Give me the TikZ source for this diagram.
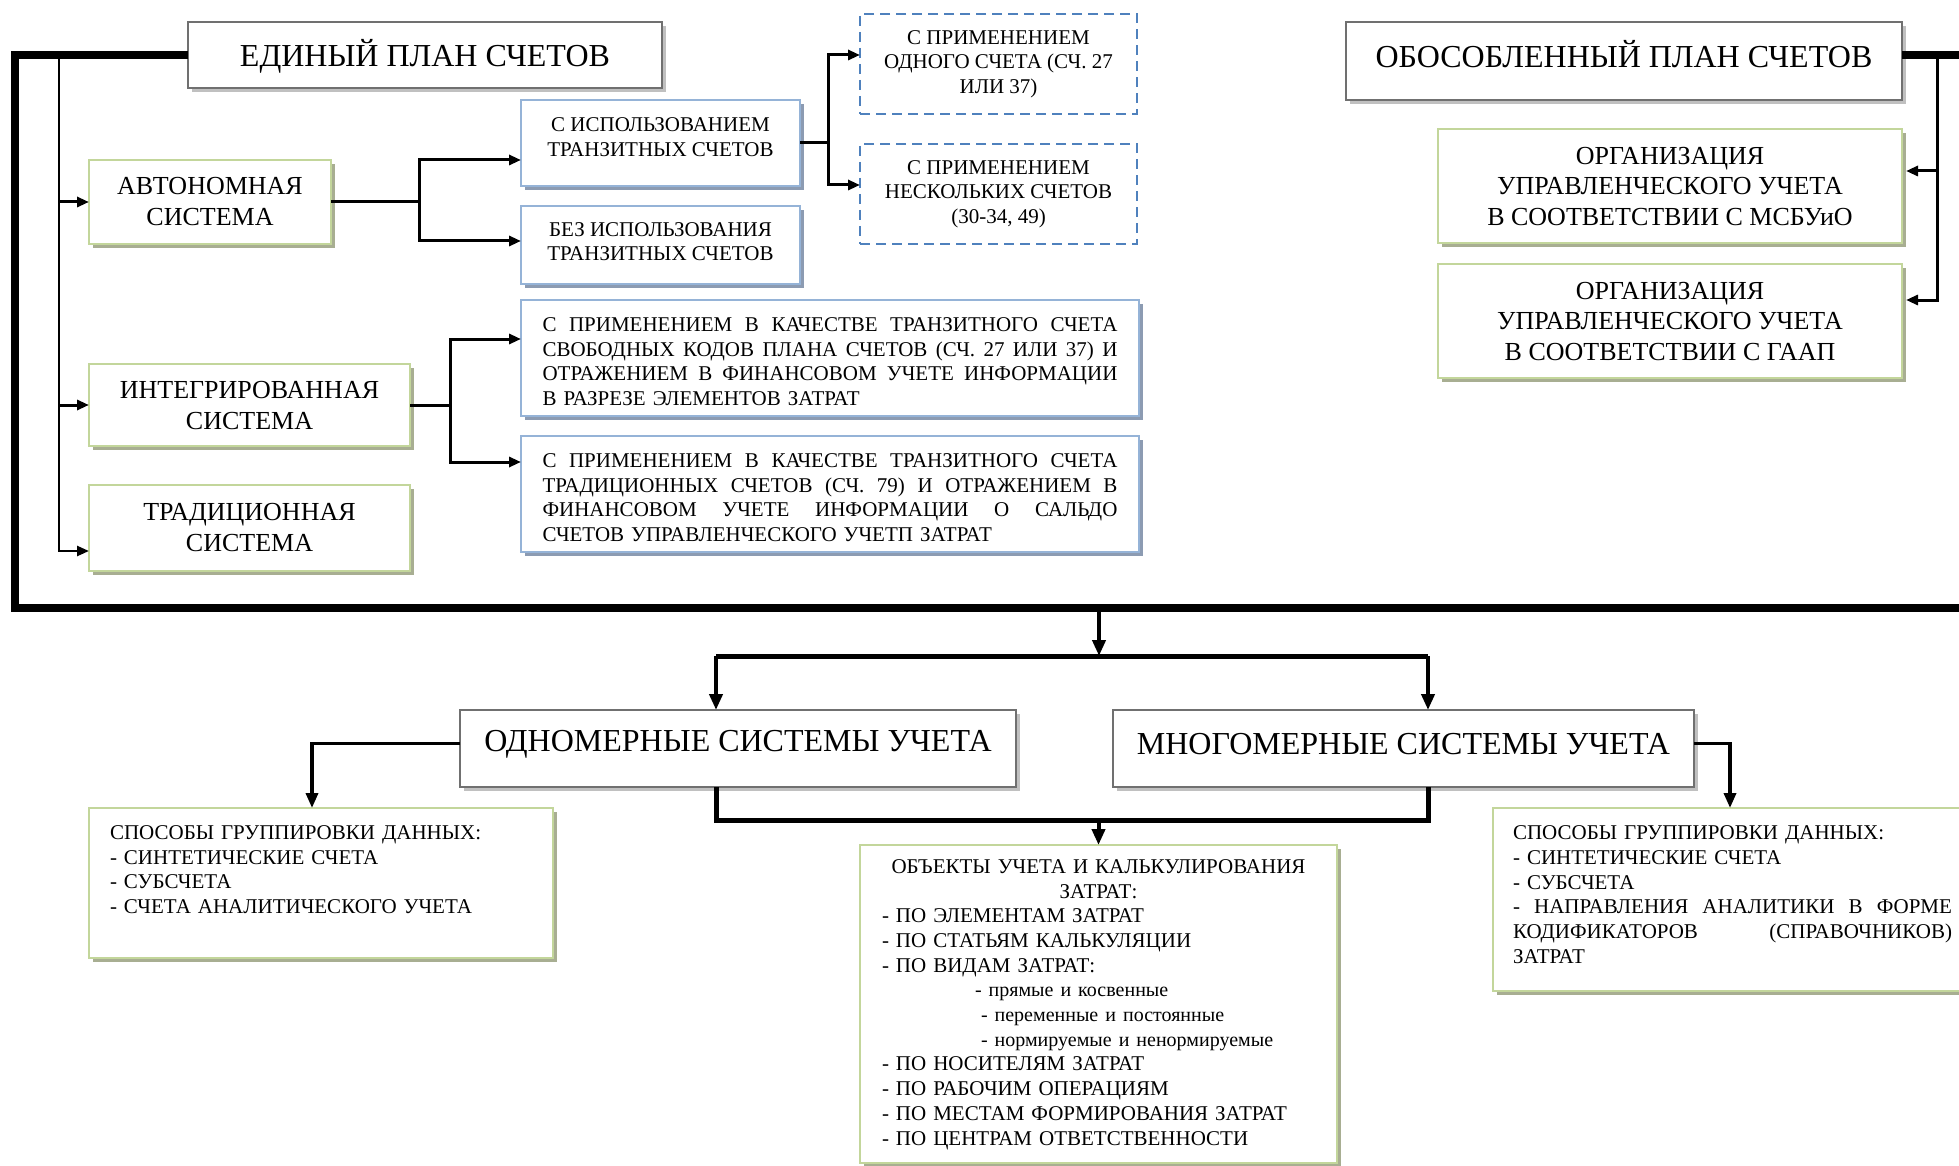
\documentclass[tikz,border=0pt]{standalone}
\usepackage{fontspec}
\setmainfont{Liberation Serif}
\usetikzlibrary{arrows.meta,shadows}

\definecolor{greyedge}{RGB}{112,112,112}
\definecolor{greyshade}{RGB}{192,192,192}
\definecolor{greenedge}{RGB}{195,214,155}
\definecolor{greenshade}{RGB}{168,174,146}
\definecolor{blueedge}{RGB}{149,179,215}
\definecolor{blueshade}{RGB}{140,155,178}
\definecolor{dashblue}{RGB}{79,129,189}

% a line of text spread over the given width (justified line)
\newcommand{\jline}[2]{\makebox[#1][s]{\spaceskip=0.25em plus 1fil\relax #2}}

\begin{document}
\begin{tikzpicture}[x=1pt,y=-1pt,
  box/.style={rectangle, inner sep=0pt, outer sep=0pt, fill=white, line width=2.5pt},
  greybox/.style={box, draw=greyedge, general shadow={fill=greyshade, shadow xshift=4pt, shadow yshift=-4pt}},
  greenbox/.style={box, draw=greenedge, general shadow={fill=greenshade, shadow xshift=4pt, shadow yshift=-4pt}},
  bluebox/.style={box, draw=blueedge, general shadow={fill=blueshade, shadow xshift=4pt, shadow yshift=-4pt}},
  dashbox/.style={box, draw=dashblue, dash pattern=on 10pt off 6pt},
  txtL/.style={font=\fontsize{32}{38}\selectfont, inner sep=0pt},
  txtM/.style={font=\fontsize{26}{30.6}\selectfont, align=center, inner sep=0pt},
  txtS/.style={font=\fontsize{21}{24.7}\selectfont, align=center, inner sep=0pt},
  txtJ/.style={font=\fontsize{21}{24.7}\selectfont, align=left, inner sep=0pt},
  frameline/.style={line width=8pt, line join=miter},
  barline/.style={line width=5pt, line join=miter},
  conn/.style={line width=3pt},
  arr/.style={conn, -{Triangle[length=12pt,width=10pt]}},
  arrside/.style={line width=3.5pt, -{Triangle[length=15pt,width=12pt]}},
  arrbig/.style={line width=4pt, -{Triangle[length=16pt,width=13pt]}},
]
\useasboundingbox (0,0) rectangle (1959,1166);

% ---------- upper part: single chart of accounts ----------
\node[greybox, minimum width=474pt, minimum height=66pt] (uni) at (425,55) {};
\node[txtL] (uniT) at (425,56) {ЕДИНЫЙ ПЛАН СЧЕТОВ};

\node[greenbox, minimum width=242pt, minimum height=84pt] (aut) at (210,202) {};
\node[txtM] (autT) at (210,201.5) {АВТОНОМНАЯ\\СИСТЕМА};

\node[greenbox, minimum width=321pt, minimum height=82pt] (int) at (249.5,405) {};
\node[txtM] (intT) at (249.5,405.5) {ИНТЕГРИРОВАННАЯ\\СИСТЕМА};

\node[greenbox, minimum width=321pt, minimum height=86pt] (tra) at (249.5,528) {};
\node[txtM] (traT) at (249.5,527.5) {ТРАДИЦИОННАЯ\\СИСТЕМА};

\node[bluebox, minimum width=279pt, minimum height=86pt] (usetr) at (660.5,143) {};
\node[txtS] (usetrT) at (660.5,137) {С ИСПОЛЬЗОВАНИЕМ\\ТРАНЗИТНЫХ СЧЕТОВ};

\node[bluebox, minimum width=279pt, minimum height=78pt] (notr) at (660.5,245) {};
\node[txtS] (notrT) at (660.5,241.5) {БЕЗ ИСПОЛЬЗОВАНИЯ\\ТРАНЗИТНЫХ СЧЕТОВ};

\node[dashbox, minimum width=277pt, minimum height=100pt] (one) at (998.5,64) {};
\node[txtS] (oneT) at (998.5,64) {С ПРИМЕНЕНИЕМ\\ОДНОГО СЧЕТА (СЧ. 27\\ИЛИ 37)};

\node[dashbox, minimum width=277pt, minimum height=100pt] (sev) at (998.5,194) {};
\node[txtS] (sevT) at (998.5,194) {С ПРИМЕНЕНИЕМ\\НЕСКОЛЬКИХ СЧЕТОВ\\(30-34, 49)};

\node[bluebox, minimum width=618pt, minimum height=116pt] (w1) at (830,358) {};
\node[txtJ, text width=575pt] (w1T) at (830,361.5) {%
\jline{575pt}{С ПРИМЕНЕНИЕМ В КАЧЕСТВЕ ТРАНЗИТНОГО СЧЕТА}\\
\jline{575pt}{СВОБОДНЫХ КОДОВ ПЛАНА СЧЕТОВ (СЧ. 27 ИЛИ 37) И}\\
\jline{575pt}{ОТРАЖЕНИЕМ В ФИНАНСОВОМ УЧЕТЕ ИНФОРМАЦИИ}\\
В РАЗРЕЗЕ ЭЛЕМЕНТОВ ЗАТРАТ};

\node[bluebox, minimum width=618pt, minimum height=116pt] (w2) at (830,494) {};
\node[txtJ, text width=575pt] (w2T) at (830,497.5) {%
\jline{575pt}{С ПРИМЕНЕНИЕМ В КАЧЕСТВЕ ТРАНЗИТНОГО СЧЕТА}\\
\jline{575pt}{ТРАДИЦИОННЫХ СЧЕТОВ (СЧ. 79) И ОТРАЖЕНИЕМ В}\\
\jline{575pt}{ФИНАНСОВОМ УЧЕТЕ ИНФОРМАЦИИ О САЛЬДО}\\
СЧЕТОВ УПРАВЛЕНЧЕСКОГО УЧЕТП ЗАТРАТ};

% ---------- upper part: separate chart of accounts ----------
\node[greybox, minimum width=556pt, minimum height=78pt] (obo) at (1624,61) {};
\node[txtL] (oboT) at (1624,54.5) {ОБОСОБЛЕННЫЙ ПЛАН СЧЕТОВ};

\node[greenbox, minimum width=464pt, minimum height=114pt] (org1) at (1670,186) {};
\node[txtM] (org1T) at (1670,186.5) {ОРГАНИЗАЦИЯ\\УПРАВЛЕНЧЕСКОГО УЧЕТА\\В СООТВЕТСТВИИ С МСБУиО};

\node[greenbox, minimum width=464pt, minimum height=114pt] (org2) at (1670,321) {};
\node[txtM] (org2T) at (1670,321.5) {ОРГАНИЗАЦИЯ\\УПРАВЛЕНЧЕСКОГО УЧЕТА\\В СООТВЕТСТВИИ С ГААП};

% ---------- lower part ----------
\node[greybox, minimum width=556pt, minimum height=77pt] (odn) at (738,748.5) {};
\node[txtL] (odnT) at (738,744.5) {ОДНОМЕРНЫЕ СИСТЕМЫ УЧЕТА};

\node[greybox, minimum width=581pt, minimum height=77pt] (mno) at (1403.5,748.5) {};
\node[txtL] (mnoT) at (1403.5,744.5) {МНОГОМЕРНЫЕ СИСТЕМЫ УЧЕТА};

\node[greenbox, minimum width=464pt, minimum height=150pt] (sg1) at (321,883) {};
\node[txtJ, text width=422pt] (sg1T) at (321,869.5) {%
СПОСОБЫ ГРУППИРОВКИ ДАННЫХ:\\
- СИНТЕТИЧЕСКИЕ СЧЕТА\\
- СУБСЧЕТА\\
- СЧЕТА АНАЛИТИЧЕСКОГО УЧЕТА};

\node[greenbox, minimum width=477pt, minimum height=318pt] (obj) at (1098.5,1004) {};
\node[txtJ, text width=433pt] (objT) at (1098.5,1004.5) {%
\makebox[433pt][c]{ОБЪЕКТЫ УЧЕТА И КАЛЬКУЛИРОВАНИЯ}\\
\makebox[433pt][c]{ЗАТРАТ:}\\
- ПО ЭЛЕМЕНТАМ ЗАТРАТ\\
- ПО СТАТЬЯМ КАЛЬКУЛЯЦИИ\\
- ПО ВИДАМ ЗАТРАТ:\\
\hspace*{93pt}{\fontsize{20}{24.7}\selectfont - прямые и косвенные}\\
\hspace*{99pt}{\fontsize{20}{24.7}\selectfont - переменные и постоянные}\\
\hspace*{99pt}{\fontsize{20}{24.7}\selectfont - нормируемые и ненормируемые}\\
- ПО НОСИТЕЛЯМ ЗАТРАТ\\
- ПО РАБОЧИМ ОПЕРАЦИЯМ\\
- ПО МЕСТАМ ФОРМИРОВАНИЯ ЗАТРАТ\\
- ПО ЦЕНТРАМ ОТВЕТСТВЕННОСТИ};

\node[greenbox, minimum width=482pt, minimum height=183pt] (sg2) at (1734,899.5) {};
\node[txtJ, text width=439pt] (sg2T) at (1732.5,894.5) {%
СПОСОБЫ ГРУППИРОВКИ ДАННЫХ:\\
- СИНТЕТИЧЕСКИЕ СЧЕТА\\
- СУБСЧЕТА\\
\jline{439pt}{- НАПРАВЛЕНИЯ АНАЛИТИКИ В ФОРМЕ}\\
\jline{439pt}{КОДИФИКАТОРОВ (СПРАВОЧНИКОВ)}\\
ЗАТРАТ};

% ---------- helper points ----------
\coordinate (fTL) at (15,55);
\coordinate (fBL) at (15,608);
\coordinate (fBR) at (1975,608);
\coordinate (rEdge) at (1975,55);
\coordinate (lb) at (59,55);
\coordinate (rb) at (1937,55);
\coordinate (trIn) at ([yshift=-23pt]tra.west);
\coordinate (o1In) at ([xshift=4pt,yshift=15pt]org1.east);
\coordinate (o2In) at ([xshift=4pt,yshift=21pt]org2.east);
\path (aut.east) ++(88,0) coordinate (af);
\coordinate (u1In) at ([yshift=-17pt]usetr.west);
\coordinate (ntIn) at ([yshift=4pt]notr.west);
\path (usetr.east) ++(28,0) coordinate (uf);
\coordinate (oneIn) at ([yshift=9pt]one.west);
\coordinate (sevIn) at ([yshift=9pt]sev.west);
\path (int.east) ++(40,0) coordinate (itf);
\coordinate (w1In) at ([yshift=19pt]w1.west);
\coordinate (w2In) at ([yshift=32pt]w2.west);
\coordinate (fb) at (1099,608);
\coordinate (bL) at (716,656);
\coordinate (bR) at (1428,656);
\coordinate (b2L) at (716,820);
\coordinate (b2R) at (1428,820);

% ---------- frame ----------
\draw[frameline] (uni.west) -- (fTL) -- (fBL) -- (fBR);
\draw[frameline] (obo.east |- rEdge) -- (rEdge);

% ---------- left branch ----------
\draw[arr, line width=2.5pt] (lb) |- (trIn);
\draw[arr] (lb |- aut.west) -- (aut.west);
\draw[arr] (lb |- int.west) -- (int.west);

\draw[conn] (aut.east) -- (af);
\draw[arr] (af) |- (u1In);
\draw[arr] (af) |- (ntIn);

\draw[conn] (usetr.east) -- (uf);
\draw[arr] (uf) |- (oneIn);
\draw[arr] (uf) |- (sevIn);

\draw[conn] (int.east) -- (itf);
\draw[arr] (itf) |- (w1In);
\draw[arr] (itf) |- (w2In);

% ---------- right branch ----------
\draw[arr] (rb) |- (o2In);
\draw[arr] (rb |- o1In) -- (o1In);

% ---------- lower part connectors ----------
\draw[arrbig] (fb) -- (fb |- bL);
\draw[barline] (bL) -- (bR);
\draw[arrbig] (bL) -- (bL |- odn.north);
\draw[arrbig] (bR) -- (bR |- mno.north);

\draw[barline] (bL |- odn.south) -- (b2L) -- (b2R) -- (bR |- mno.south);
\draw[arrbig] (b2L -| obj.north) -- (obj.north);

\draw[arrside] ([yshift=5pt]odn.west) -| ([xshift=-9pt]sg1.north);
\draw[arrside] ([yshift=5pt]mno.east) -| ([xshift=-4pt]sg2.north);
\end{tikzpicture}
\end{document}
